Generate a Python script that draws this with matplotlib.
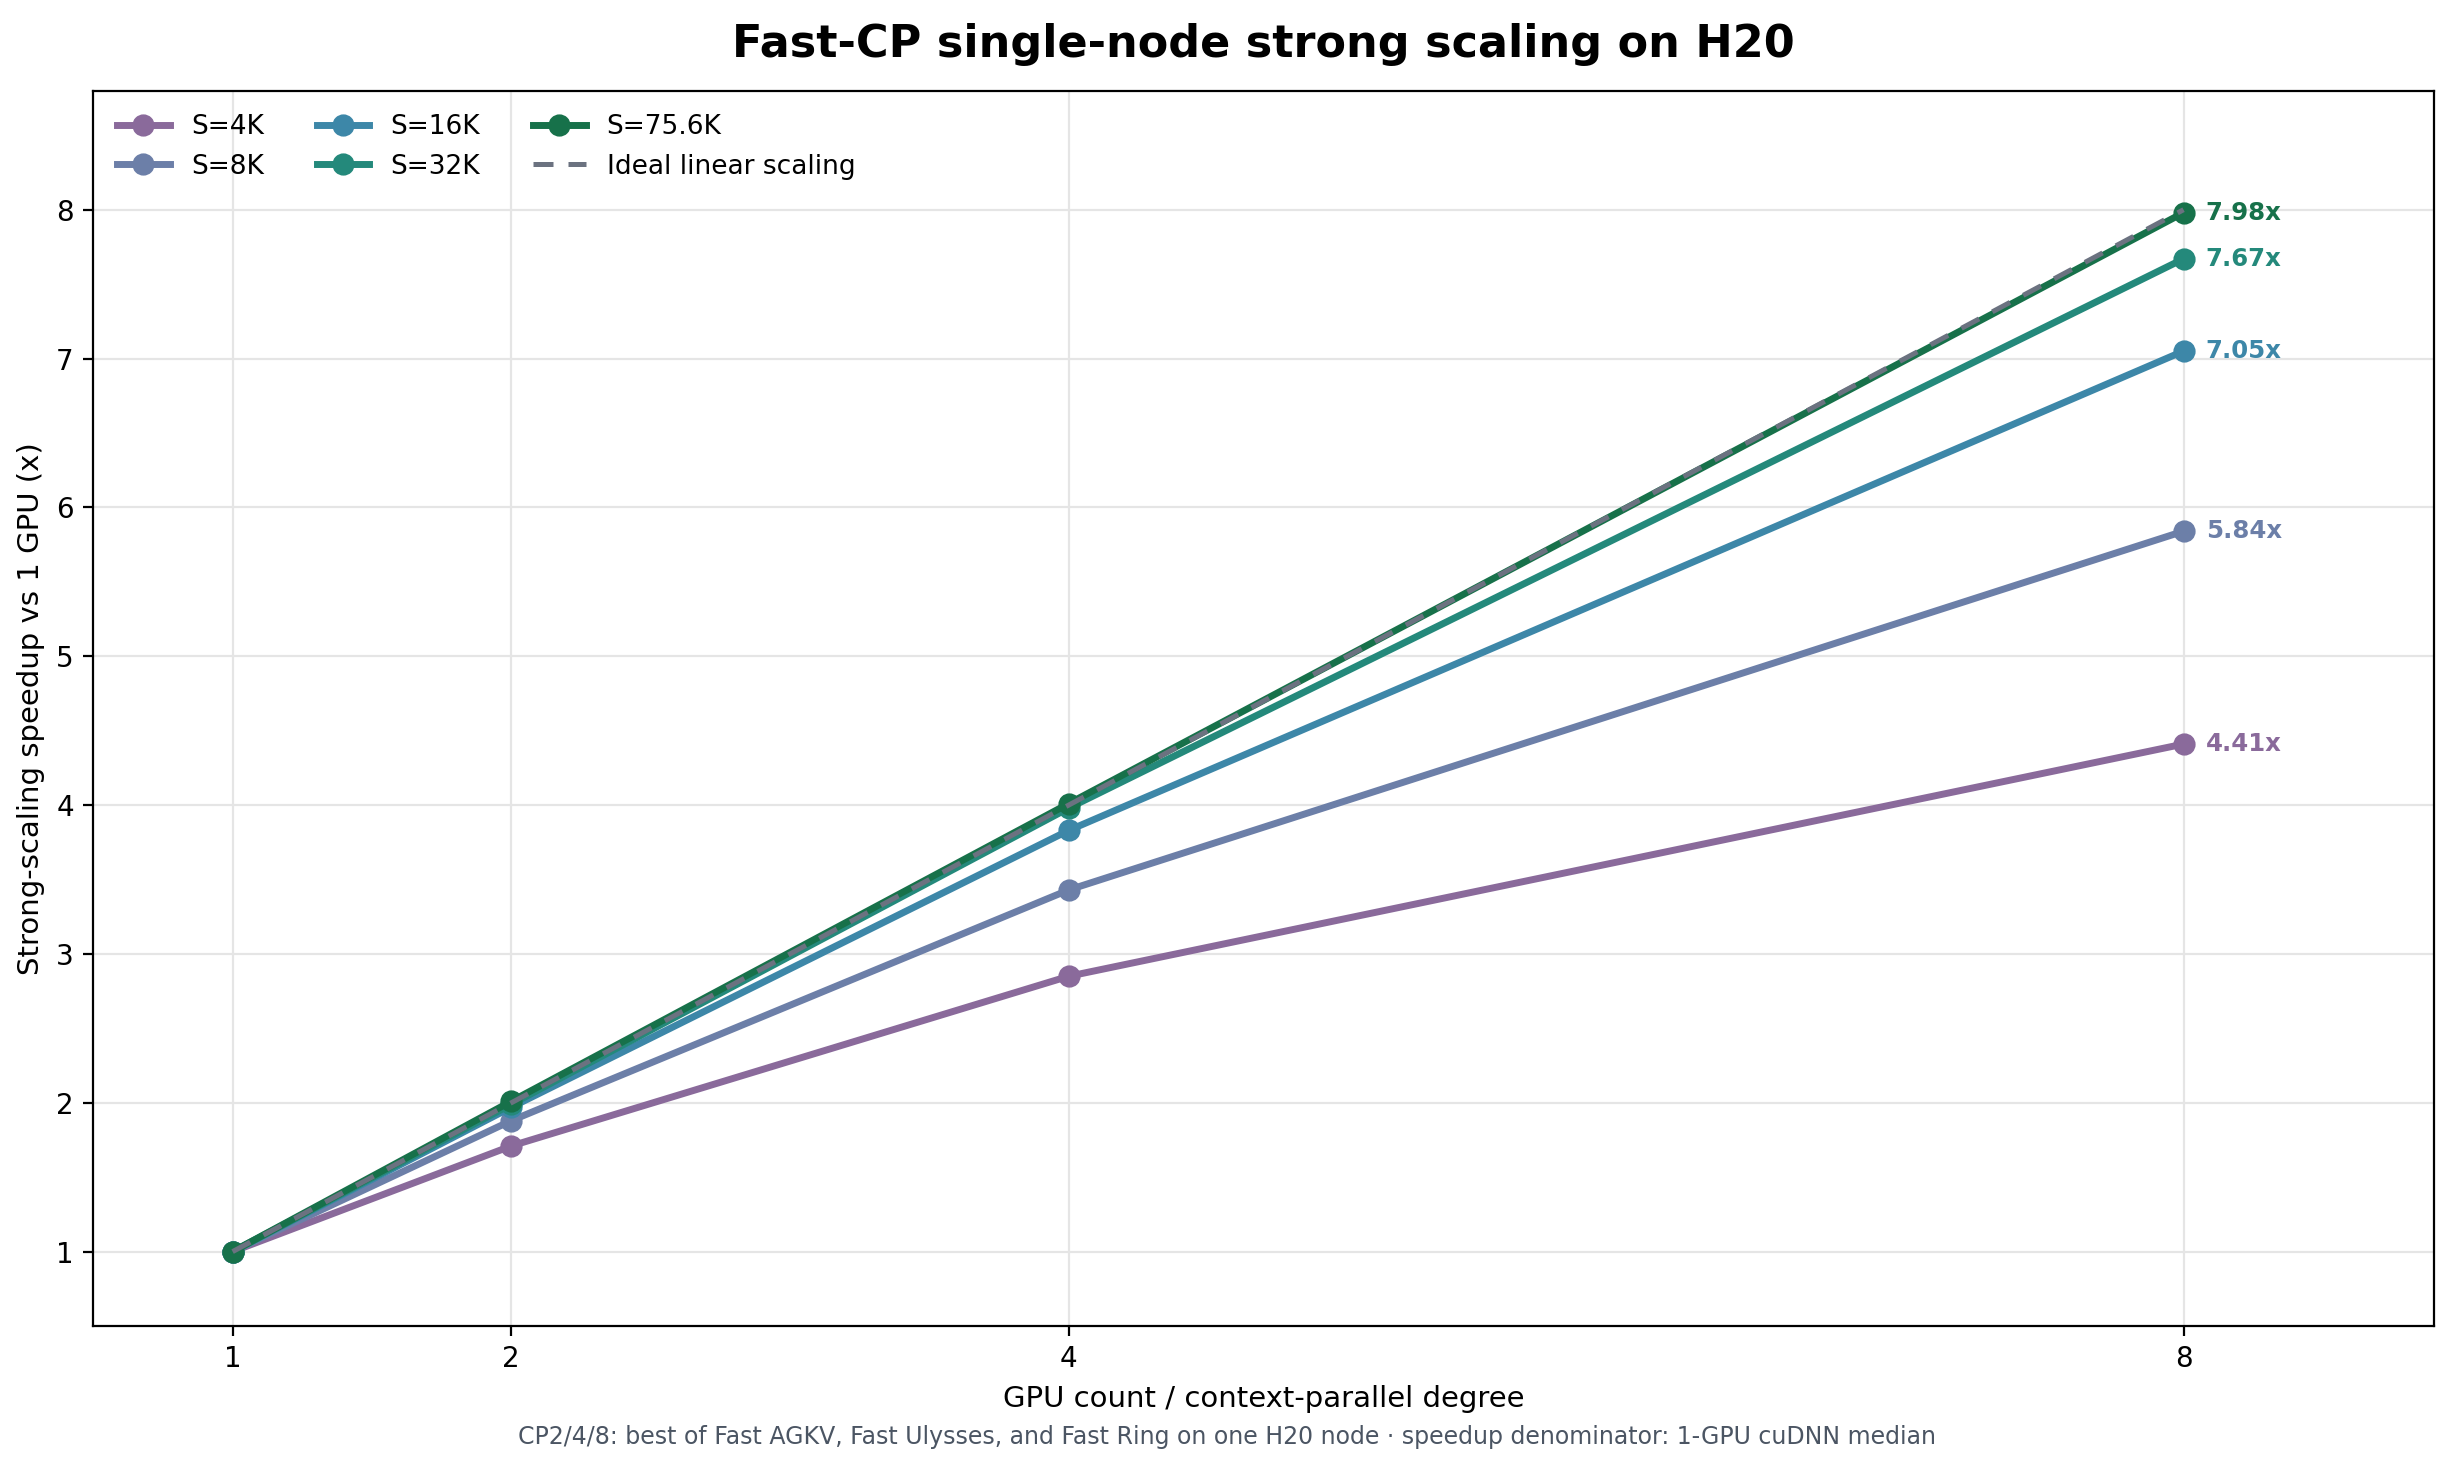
import numpy as np
import matplotlib
matplotlib.use("Agg")
import matplotlib.pyplot as plt

gpus = [1, 2, 4, 8]
labels = ["S=4K", "S=8K", "S=16K", "S=32K", "S=75.6K"]
speedup_4k = [1.0, 1.71, 2.85, 4.41]
speedup_8k = [1.0, 1.88, 3.43, 5.84]
speedup_16k = [1.0, 1.97, 3.83, 7.05]
speedup_32k = [1.0, 1.99, 3.98, 7.67]
speedup_75k = [1.0, 2.01, 4.01, 7.98]
series = [speedup_4k, speedup_8k, speedup_16k, speedup_32k, speedup_75k]
colors = ["#8a6a9b", "#6c7fa8", "#3d87a8", "#24897b", "#17714a"]

fig, ax = plt.subplots(figsize=(12.27, 7.31), dpi=200)

for lab, vals, c in zip(labels, series, colors):
    ax.plot(gpus, vals, "-o", color=c, lw=2.5, ms=7, label=lab)
    ax.annotate(f"{vals[-1]:.2f}x", (gpus[-1], vals[-1]), xytext=(8, 0),
                textcoords="offset points", va="center", ha="left",
                color=c, fontsize=8.8, fontweight="bold")

ax.plot(gpus, gpus, linestyle=(0, (4, 3)), color="#6b7280", lw=1.8,
        label="Ideal linear scaling")

ax.set_xticks(gpus)
ax.set_xticklabels([str(g) for g in gpus])
ax.set_xlim(0.5, 8.9)
ax.set_ylim(0.5, 8.8)
ax.grid(True, color="#e5e5e5", lw=0.8)
ax.set_axisbelow(True)
ax.set_xlabel("GPU count / context-parallel degree", fontsize=10.5)
ax.set_ylabel("Strong-scaling speedup vs 1 GPU (x)", fontsize=10.5)
ax.set_title("Fast-CP single-node strong scaling on H20", fontsize=16,
             fontweight="bold", pad=12)
ax.tick_params(labelsize=10)
ax.legend(loc="upper left", ncol=3, frameon=False, fontsize=9.5,
          handlelength=2.0, columnspacing=2.0)

fig.text(0.5, 0.012, "CP2/4/8: best of Fast AGKV, Fast Ulysses, and Fast Ring on one H20 node \u00b7 "
         "speedup denominator: 1-GPU cuDNN median", ha="center", fontsize=8.5,
         color="#4b5563")

fig.subplots_adjust(left=0.038, right=0.992, top=0.938, bottom=0.093)
plt.savefig("out.png", dpi=200)
